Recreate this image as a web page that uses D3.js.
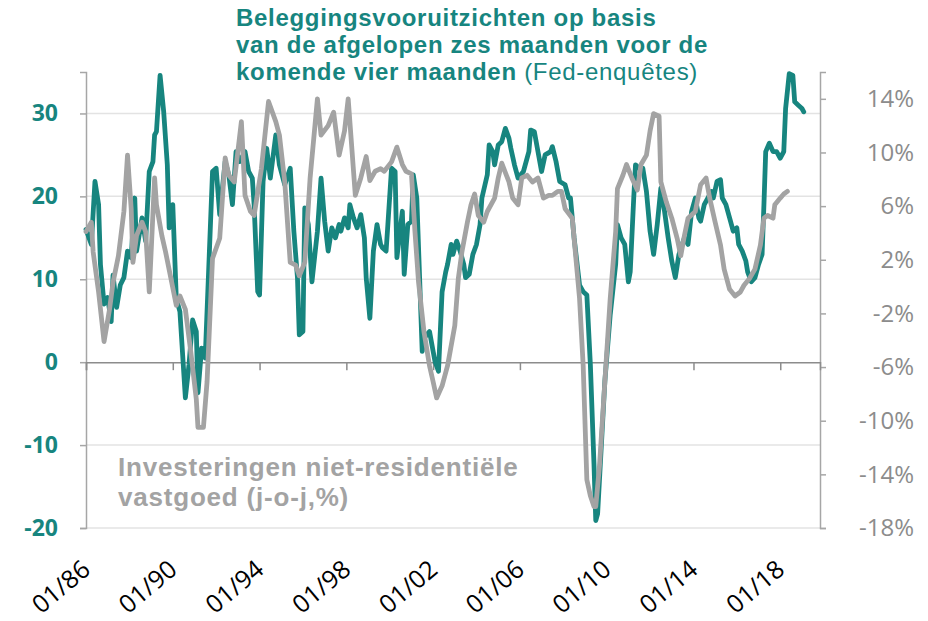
<!DOCTYPE html>
<html>
<head>
<meta charset="utf-8">
<script src="https://cdn.jsdelivr.net/npm/d3@7"></script>
<style>
  body { margin: 0; background: #fff; }
  text { font-family: "Open Sans", Lato, sans-serif; }
  .block { font-family: "Liberation Sans", Arial, sans-serif; }
</style>
</head>
<body>
<div class="canvas"></div>
<script>
// Fed surveys: capex outlook (left axis)
const surveyMonths = [
  "1986-01","1986-04","1986-06","1986-08","1986-09","1986-11",
  "1987-01","1987-03","1987-04","1987-06","1987-08","1987-10","1987-12",
  "1988-02","1988-04","1988-05","1988-08","1988-10","1988-12",
  "1989-02","1989-03","1989-04","1989-06","1989-08","1989-10","1989-11",
  "1990-01","1990-03","1990-05","1990-08","1990-10","1990-12",
  "1991-02","1991-03","1991-05","1991-07","1991-09","1991-11",
  "1992-01","1992-03","1992-06","1992-08","1992-10","1992-12",
  "1993-02","1993-05","1993-07","1993-09","1993-10","1993-12",
  "1994-01","1994-03","1994-05","1994-07","1994-10","1994-12",
  "1995-03","1995-06","1995-08","1995-10","1995-11",
  "1996-01","1996-02","1996-04","1996-06","1996-09","1996-11",
  "1997-01","1997-03","1997-05","1997-07","1997-09","1997-10","1997-12",
  "1998-02","1998-03","1998-05","1998-07","1998-09","1998-11","1998-12",
  "1999-02","1999-04","1999-06","1999-08","1999-09","1999-11","1999-12",
  "2000-02","2000-04","2000-05","2000-08","2000-09","2000-11",
  "2001-01","2001-02","2001-04","2001-07","2001-08","2001-11",
  "2002-02","2002-04","2002-06","2002-08","2002-09","2002-11","2002-12",
  "2003-02","2003-04","2003-06","2003-07","2003-09","2003-11",
  "2004-01","2004-03","2004-04","2004-07","2004-08","2004-10","2004-11",
  "2005-01","2005-03","2005-05","2005-07","2005-08","2005-10","2005-12",
  "2006-03","2006-06","2006-07","2006-09","2006-11",
  "2007-01","2007-03","2007-06","2007-07","2007-09","2007-11",
  "2008-02","2008-04","2008-05","2008-07","2008-10","2008-12",
  "2009-02","2009-04","2009-06","2009-07","2009-08","2009-10","2009-12",
  "2010-03","2010-06","2010-07","2010-09","2010-11",
  "2011-01","2011-02","2011-04","2011-05","2011-07","2011-09","2011-11",
  "2012-01","2012-03","2012-05","2012-07","2012-09","2012-11",
  "2013-01","2013-03","2013-05","2013-08","2013-10","2013-12",
  "2014-02","2014-04","2014-05","2014-07","2014-09","2014-11","2014-12",
  "2015-02","2015-04","2015-05","2015-07","2015-09","2015-11",
  "2016-01","2016-02","2016-04","2016-06","2016-07","2016-09","2016-11",
  "2017-01","2017-03","2017-04","2017-05","2017-07","2017-09","2017-11",
  "2018-01","2018-03","2018-04","2018-06","2018-08","2018-09","2018-11",
  "2019-01","2019-02"
];
const surveyValues = [
  16, 14.2, 21.8, 19, 11.8, 7,
  7.8, 4.9, 10.5, 6.6, 9.3, 10.2, 13.4,
  12.6, 19.8, 13.4, 17.4, 14.6, 23,
  24.2, 27.4, 27.8, 34.6, 30.2, 23.8, 16.2,
  19, 7.7, 6.1, -4.3, -0.3, 5.1,
  3.7, -3.7, 1.7, 0.5, 11.8, 23,
  23.4, 17.8, 24.2, 22.6, 19, 25.4,
  24.2, 25.4, 23, 22.2, 19, 8.5,
  8.1, 21.8, 25.8, 22.2, 27.4, 23.8,
  21.4, 23.4, 15.8, 10.2, 3.3,
  3.7, 18.6, 16.6, 9.7, 15.8, 22.2,
  17, 13.4, 16.2, 15, 16.6, 15.8, 17.4,
  16.2, 19, 17.4, 16.2, 17.8, 15, 10.2,
  5.3, 13.4, 16.6, 14.2, 13.8, 13.4, 16.6,
  23.4, 23, 12.6, 18.2, 10.6, 16.6,
  17, 22.6, 19.8, 1.3, 2.9, 3.7,
  0.1, -1.1, 8.5, 10.9, 11.8, 14.2, 13,
  14.6, 13.4, 11.8, 10.2, 10.6, 13,
  14.2, 16.6, 19.8, 22.6, 26.2, 25.4, 23.8,
  26.2, 26.6, 28.2, 27, 25.8, 23.8, 22.2,
  23, 25.4, 28, 27.8, 25.4,
  23, 25, 25.4, 26, 24.2, 21.8,
  21.4, 19.8, 19.8, 15, 9.3, 8.5,
  8.1, -0.3, -12.3, -19.1, -18.3, -10.3, -2.3,
  5.7, 11.8, 16.6, 15, 14.2,
  9.7, 10.9, 19.8, 23.8, 23.4, 23.4, 20.6,
  15.8, 13, 16.6, 21, 18.2, 15,
  12.2, 10.2, 13, 15, 14.2, 18.2,
  19.8, 17.4, 17, 19, 19.8, 20.6, 19.8,
  21.8, 22, 19.8, 19, 17.4, 15.8,
  16.2, 14.2, 13.4, 12.2, 10.9, 9.7, 10.2,
  11.8, 13, 19, 25.4, 26.4, 25.4, 25.4,
  24.6, 25.4, 30.6, 34.8, 34.6, 31.4, 31,
  30.6, 30.2
];

// non-residential investment, y/y % (right axis)
const investMonths = [
  "1986-01","1986-04","1986-05","1986-08","1986-11",
  "1987-02","1987-04","1987-07","1987-10","1987-12",
  "1988-02","1988-03","1988-05","1988-08","1988-10","1988-12",
  "1989-03","1989-04","1989-07","1989-09","1989-12",
  "1990-03","1990-05","1990-08","1990-11",
  "1991-02","1991-03","1991-06","1991-08","1991-11",
  "1992-03","1992-06","1992-08","1992-11",
  "1993-03","1993-05","1993-08","1993-10",
  "1994-02","1994-06","1994-10","1994-12",
  "1995-03","1995-06","1995-09","1995-11",
  "1996-02","1996-05","1996-09","1996-11",
  "1997-03","1997-06","1997-09","1997-12",
  "1998-02","1998-06","1998-09","1998-12",
  "1999-02","1999-05","1999-08","1999-10",
  "2000-02","2000-05","2000-08","2000-10",
  "2001-01","2001-03","2001-05","2001-08","2001-11",
  "2002-01","2002-03","2002-06","2002-09",
  "2003-01","2003-03","2003-05","2003-08","2003-10","2003-12",
  "2004-02","2004-05","2004-07","2004-11",
  "2005-01","2005-03","2005-07","2005-09","2005-12",
  "2006-02","2006-05","2006-08","2006-11",
  "2007-02","2007-05","2007-07","2007-10","2007-12",
  "2008-02","2008-06","2008-08","2008-10","2008-12",
  "2009-02","2009-04","2009-06","2009-07","2009-09","2009-12",
  "2010-03","2010-06","2010-07","2010-10","2010-12",
  "2011-03","2011-06","2011-08","2011-11",
  "2012-01","2012-03","2012-06","2012-07","2012-10",
  "2013-01","2013-04","2013-06","2013-08","2013-10",
  "2014-02","2014-05","2014-08","2014-10",
  "2015-01","2015-04","2015-06","2015-09","2015-12",
  "2016-03","2016-05","2016-08","2016-11",
  "2017-02","2017-04","2017-06","2017-09","2017-10",
  "2018-01","2018-03","2018-05"
];
const investValues = [
  4.1, 4.8, 2.6, -0.4, -4.1,
  -1.7, 0.3, 2.3, 5.6, 9.8,
  5.8, 1.8, 3.8, 4.8, 4.1, -0.4,
  8.1, 6.1, 3.8, 2.6, 0.6,
  -1.4, -0.7, -1.7, -4.9,
  -8.4, -10.5, -10.5, -7.1, 2.1,
  3.6, 9.6, 8.3, 7.8,
  12.3, 6.8, 5.6, 5.3,
  8.8, 13.8, 12.3, 11.3,
  7.8, 1.8, 1.6, 0.8,
  1.8, 8.1, 14, 11.3,
  12, 13, 9.8, 11.6,
  14, 6.8, 8.1, 9.7,
  7.9, 8.6, 8.8, 8.6,
  9.3, 10.4, 9.1, 8.6,
  8.4, 4.1, 0.3, -3.4, -5.9,
  -7.1, -8.3, -7.4, -5.9,
  -2.9, 0.6, 2.6, 4.8, 6.1, 6.9,
  5.3, 4.8, 5.6, 6.6,
  8.1, 9.2, 7.8, 6.6, 6.1,
  8.1, 8.3, 7.8, 8.1,
  6.6, 6.8, 6.8, 7.1, 7.1,
  5.8, 5.1, 2.1, -0.9, -5.9,
  -14.4, -15.6, -16.4, -16.4, -13.4, -7.1,
  -0.9, 4.1, 7.3, 8.3, 9.1,
  8.1, 7.2, 9.1, 9.8,
  11.6, 12.9, 12.7, 7.8, 6.3,
  5.1, 3.6, 2.3, 3.8, 5.1,
  5.6, 7.6, 8.1, 6.6,
  4.8, 3.1, 1.3, -0.2, -0.7,
  -0.4, 0.1, 0.6, 1.3,
  3.1, 5.1, 5.3, 5.1, 6.1,
  6.6, 6.9, 7.1
];

const leftTicks = [-20, -10, 0, 10, 20, 30];
const rightTicks = [-18, -14, -10, -6, -2, 2, 6, 10, 14];
const xTickMonths = ["1986-01", "1990-01", "1994-01", "1998-01", "2002-01", "2006-01", "2010-01", "2014-01", "2018-01"];

const titleLines = [
  "Beleggingsvooruitzichten op basis",
  "van de afgelopen zes maanden voor de",
  "komende vier maanden",
];
const titleNote = "(Fed-enquêtes)";
const investLabel = ["Investeringen niet-residentiële", "vastgoed (j-o-j,%)"];

const teal = "#17857f";
const grey = "#a3a3a3";

const parseMonth = d3.timeParse("%Y-%m");
const signed = (d) => (d < 0 ? "-" + Math.abs(d) : String(d));

const dimensions = { width: 928, height: 621 };
const plot = { left: 86, right: 820, top: 72, bottom: 528 };

const svg = d3
  .select(".canvas")
  .append("svg")
  .attr("width", dimensions.width)
  .attr("height", dimensions.height);

const x = d3
  .scaleTime()
  .domain([parseMonth("1986-01"), parseMonth("2019-11")])
  .range([plot.left, plot.right]);

const yLeft = d3.scaleLinear().domain([-20, 35]).range([plot.bottom, plot.top]);
const yRight = d3.scaleLinear().domain([-18, 16]).range([plot.bottom, plot.top]);

// gridlines
svg
  .append("g")
  .selectAll("line")
  .data(leftTicks.filter((d) => d !== 0))
  .join("line")
  .attr("x1", plot.left)
  .attr("x2", plot.right)
  .attr("y1", (d) => yLeft(d))
  .attr("y2", (d) => yLeft(d))
  .attr("stroke", "#e3e3e3")
  .attr("stroke-width", 1.5);

// left axis
const leftAxis = svg
  .append("g")
  .attr("transform", `translate(${plot.left},0)`)
  .call(d3.axisLeft(yLeft).tickValues(leftTicks).tickSize(6).tickPadding(22).tickFormat(signed));

leftAxis.select(".domain").attr("stroke", "#a6a6a6").attr("stroke-width", 1.5);
leftAxis.selectAll(".tick line").attr("stroke", "#a6a6a6").attr("stroke-width", 1.5);
leftAxis
  .selectAll(".tick text")
  .attr("fill", teal)
  .attr("font-size", 23)
  .attr("font-weight", "bold");

// right axis
const rightAxis = svg
  .append("g")
  .attr("transform", `translate(${plot.right},0)`)
  .call(d3.axisRight(yRight).tickValues(rightTicks).tickSize(6).tickPadding(88).tickFormat((d) => signed(d) + "%"));

rightAxis.select(".domain").attr("stroke", "#a6a6a6").attr("stroke-width", 1.5);
rightAxis.selectAll(".tick line").attr("stroke", "#a6a6a6").attr("stroke-width", 1.5);
rightAxis
  .selectAll(".tick text")
  .attr("fill", "#8c8c8c")
  .attr("font-size", 24)
  .attr("text-anchor", "end");

// x axis on zero line
const xAxis = svg
  .append("g")
  .attr("transform", `translate(0,${yLeft(0)})`)
  .call(d3.axisBottom(x).tickValues(xTickMonths.map(parseMonth)).tickSize(8).tickFormat(""));

xAxis.select(".domain").attr("stroke", "#8c8c8c").attr("stroke-width", 1.5);
xAxis.selectAll(".tick line").attr("stroke", "#8c8c8c").attr("stroke-width", 1.5);

// x labels, rotated, along the bottom
svg
  .append("g")
  .selectAll("text")
  .data(xTickMonths.map(parseMonth))
  .join("text")
  .attr("transform", (d) => `translate(${x(d) + 6},${plot.bottom + 44}) rotate(-40)`)
  .attr("text-anchor", "end")
  .attr("font-size", 25)
  .attr("fill", "#000")
  .text(d3.timeFormat("%m/%y"));

// lines
const surveyData = surveyMonths.map((m, i) => ({ date: parseMonth(m), value: surveyValues[i] }));
const investData = investMonths.map((m, i) => ({ date: parseMonth(m), value: investValues[i] }));

const surveyLine = d3
  .line()
  .x((d) => x(d.date))
  .y((d) => yLeft(d.value));

const investLine = d3
  .line()
  .x((d) => x(d.date))
  .y((d) => yRight(d.value));

svg
  .append("path")
  .datum(surveyData)
  .attr("d", surveyLine)
  .attr("fill", "none")
  .attr("stroke", teal)
  .attr("stroke-width", 4.8)
  .attr("stroke-linejoin", "round")
  .attr("stroke-linecap", "round");

svg
  .append("path")
  .datum(investData)
  .attr("d", investLine)
  .attr("fill", "none")
  .attr("stroke", grey)
  .attr("stroke-width", 4.8)
  .attr("stroke-linejoin", "round")
  .attr("stroke-linecap", "round");

// title, one text per line so the lines stay apart
titleLines.forEach((line, i) => {
  const t = svg
    .append("text")
    .attr("class", "block")
    .attr("x", 236)
    .attr("y", 26 + i * 27)
    .attr("fill", teal)
    .attr("font-size", 24)
    .attr("letter-spacing", 0.7);

  t.append("tspan").attr("font-weight", "bold").text(line);
  if (i === titleLines.length - 1) {
    t.append("tspan").attr("font-weight", "normal").text(" " + titleNote);
  }
});

// series label for the grey line
svg
  .append("g")
  .selectAll("text")
  .data(investLabel)
  .join("text")
  .attr("class", "block")
  .attr("x", 118)
  .attr("y", (d, i) => 476 + i * 30)
  .attr("fill", grey)
  .attr("font-size", 26)
  .attr("font-weight", "bold")
  .attr("letter-spacing", 0.8)
  .text((d) => d);
</script>
</body>
</html>
